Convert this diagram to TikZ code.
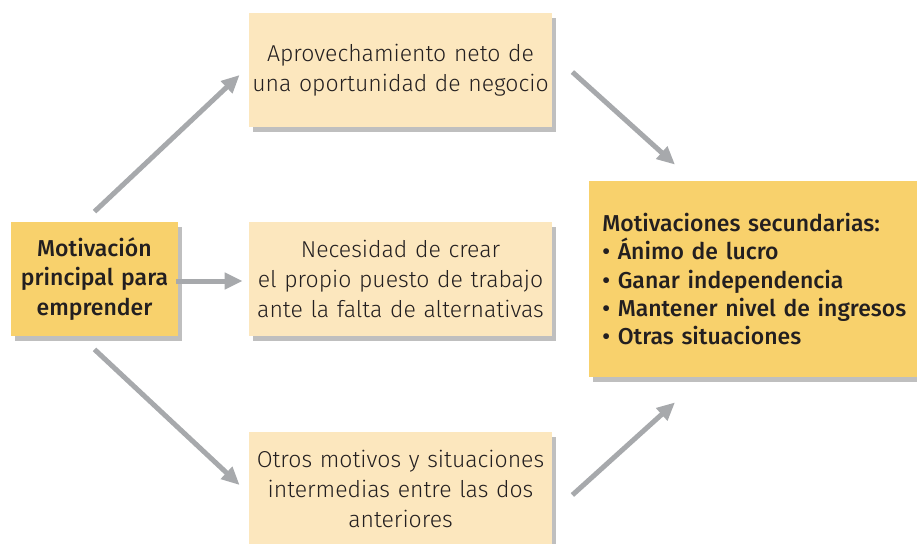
\documentclass[tikz,border=0pt]{standalone}
\usepackage{fontspec}
\setmainfont{Fira Sans Light}
\newfontfamily\medfont{Fira Sans Medium}
\usepackage{tikz}
\usetikzlibrary{shapes, arrows.meta, positioning, shadows}

\definecolor{darkbox}{RGB}{248,209,108}
\definecolor{lightbox}{RGB}{252,231,190}
\definecolor{arrowgray}{RGB}{167,169,172}
\definecolor{textgray}{RGB}{35,31,32}

\begin{document}
\begin{tikzpicture}[x=0.5pt, y=-0.5pt,
		box/.style={rectangle, fill=lightbox, text=textgray, minimum width=151.5pt, minimum height=57pt, text width=151.5pt, align=center, inner sep=0pt, font=\fontsize{11.5}{15}\selectfont, drop shadow={shadow xshift=2pt, shadow yshift=-2.5pt, opacity=0.25, fill=black}},
		mainbox/.style={box, fill=darkbox, minimum width=83.5pt, text width=83.5pt, font=\medfont\fontsize{11.5}{14.75}\selectfont},
		arr/.style={draw=arrowgray, line width=2.5pt, -{Triangle[length=9pt, width=8pt]}}]
		\clip (0,0) rectangle (917,543);
		\useasboundingbox (0,0) rectangle (917,543);
		
		\node[mainbox] (main) at (94.5,279) {Motivación\\principal para\\emprender};
		
		\node[box] (top) at (400.5,70) {Aprovechamiento neto de\\una oportunidad de negocio};
		\node[box] (mid) at (400.5,279) {Necesidad de crear\\el propio puesto de trabajo\\ante la falta de alternativas};
		\node[box] (bot) at (400.5,489) {Otros motivos y situaciones\\intermedias entre las dos\\anteriores};
		
		\node[box, fill=darkbox, anchor=west, minimum width=175pt, minimum height=98pt, text width=162pt, align=left, inner xsep=6.5pt, font=\medfont\fontsize{11.5}{14.1}\selectfont] (sec) at (589,279) {Motivaciones secundarias:\\• Ánimo de lucro\\• Ganar independencia\\• Mantener nivel de ingresos\\• Otras situaciones};
		
		\draw[arr] ([yshift=5pt]main.north) -- ([xshift=-4.5pt,yshift=-2.5pt]top.west);
		\draw[arr] ([xshift=-1pt,yshift=-1pt]main.east) -- ([xshift=-3pt,yshift=-1pt]mid.west);
		\draw[arr] ([yshift=-6.5pt]main.south) -- ([xshift=-4.5pt,yshift=2pt]bot.west);
		
		\draw[arr] ([xshift=10pt,yshift=-1pt]top.east) -- ([xshift=43pt,yshift=8pt]sec.north west);
		\draw[arr] ([xshift=10pt,yshift=-3pt]bot.east) -- ([xshift=43pt,yshift=-12.5pt]sec.south west);
	\end{tikzpicture}
\end{document}
